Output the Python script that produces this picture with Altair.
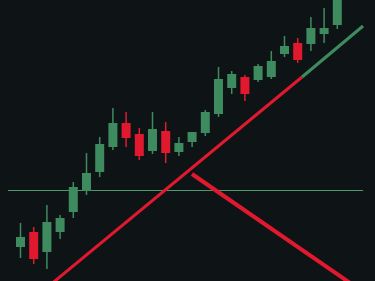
import altair as alt
import pandas as pd

# Candle data (index, open, close, high, low)
idx   = list(range(1, 26))
opens = [34, 49, 29, 49, 69, 90, 109, 134, 158, 147, 130, 150, 129, 139, 148, 167, 193, 204, 201, 204, 227, 238, 237, 247, 256]
closes= [44, 22, 59, 63, 94, 108, 137, 158, 143, 125, 152, 128, 138, 149, 169, 202, 207, 187, 215, 220, 235, 221, 253, 253, 285]
highs = [58, 54, 76, 66, 99, 128, 144, 173, 169, 153, 169, 159, 144, 149, 171, 214, 210, 206, 217, 230, 245, 243, 264, 273, 285]
lows  = [23, 17, 12, 42, 63, 86, 104, 131, 134, 121, 127, 118, 125, 134, 145, 164, 187, 180, 199, 202, 224, 218, 230, 238, 252]

# Drawn lines (x in candle index units, y in price units)
trend_red_x = [3.24, 22.33]
trend_red_y = [-4, 204]
trend_green_x = [22.33, 26.95]
trend_green_y = [204, 255]
level_x = [0.05, 26.95]
level_y = [90.5, 90.5]
down_x = [13.99, 26.3]
down_y = [107, -5]

BG = "#0e1416"
GREEN = "#3d8b5f"
RED = "#e0192e"

df = pd.DataFrame({"i": idx, "open": opens, "close": closes, "high": highs, "low": lows})
df["dir"] = ["up" if c >= o else "down" for o, c in zip(opens, closes)]

xs = alt.Scale(domain=[-0.553, 27.856], nice=False, zero=False, padding=0)
ys = alt.Scale(domain=[0, 281], nice=False, zero=False, padding=0)
col = alt.Color("dir:N", scale=alt.Scale(domain=["up", "down"], range=[GREEN, RED]), legend=None)

base = alt.Chart(df)
wicks = base.mark_rule(strokeWidth=1.5, clip=True).encode(
    x=alt.X("i:Q", scale=xs, axis=None),
    y=alt.Y("low:Q", scale=ys, axis=None),
    y2="high:Q",
    color=col,
)
bodies = base.mark_bar(size=9, clip=True).encode(
    x=alt.X("i:Q", scale=xs, axis=None),
    y=alt.Y("open:Q", scale=ys, axis=None),
    y2="close:Q",
    color=col,
)

def line(xv, yv, color, w):
    d = pd.DataFrame({"x": xv, "y": yv})
    return alt.Chart(d).mark_line(color=color, strokeWidth=w, clip=True, strokeCap="butt").encode(
        x=alt.X("x:Q", scale=xs, axis=None),
        y=alt.Y("y:Q", scale=ys, axis=None),
    )

chart = alt.layer(
    line(level_x, level_y, "#4e9a6b", 1),
    line(trend_red_x, trend_red_y, RED, 3),
    line(trend_green_x, trend_green_y, GREEN, 3),
    line(down_x, down_y, RED, 4),
    wicks,
    bodies,
).properties(
    width=375, height=281, background=BG, padding=0, autosize=alt.AutoSizeParams(type="none")
).configure_view(stroke=None, fill=BG)

chart.save("out.html", embed_options={"renderer": "svg", "actions": False})
